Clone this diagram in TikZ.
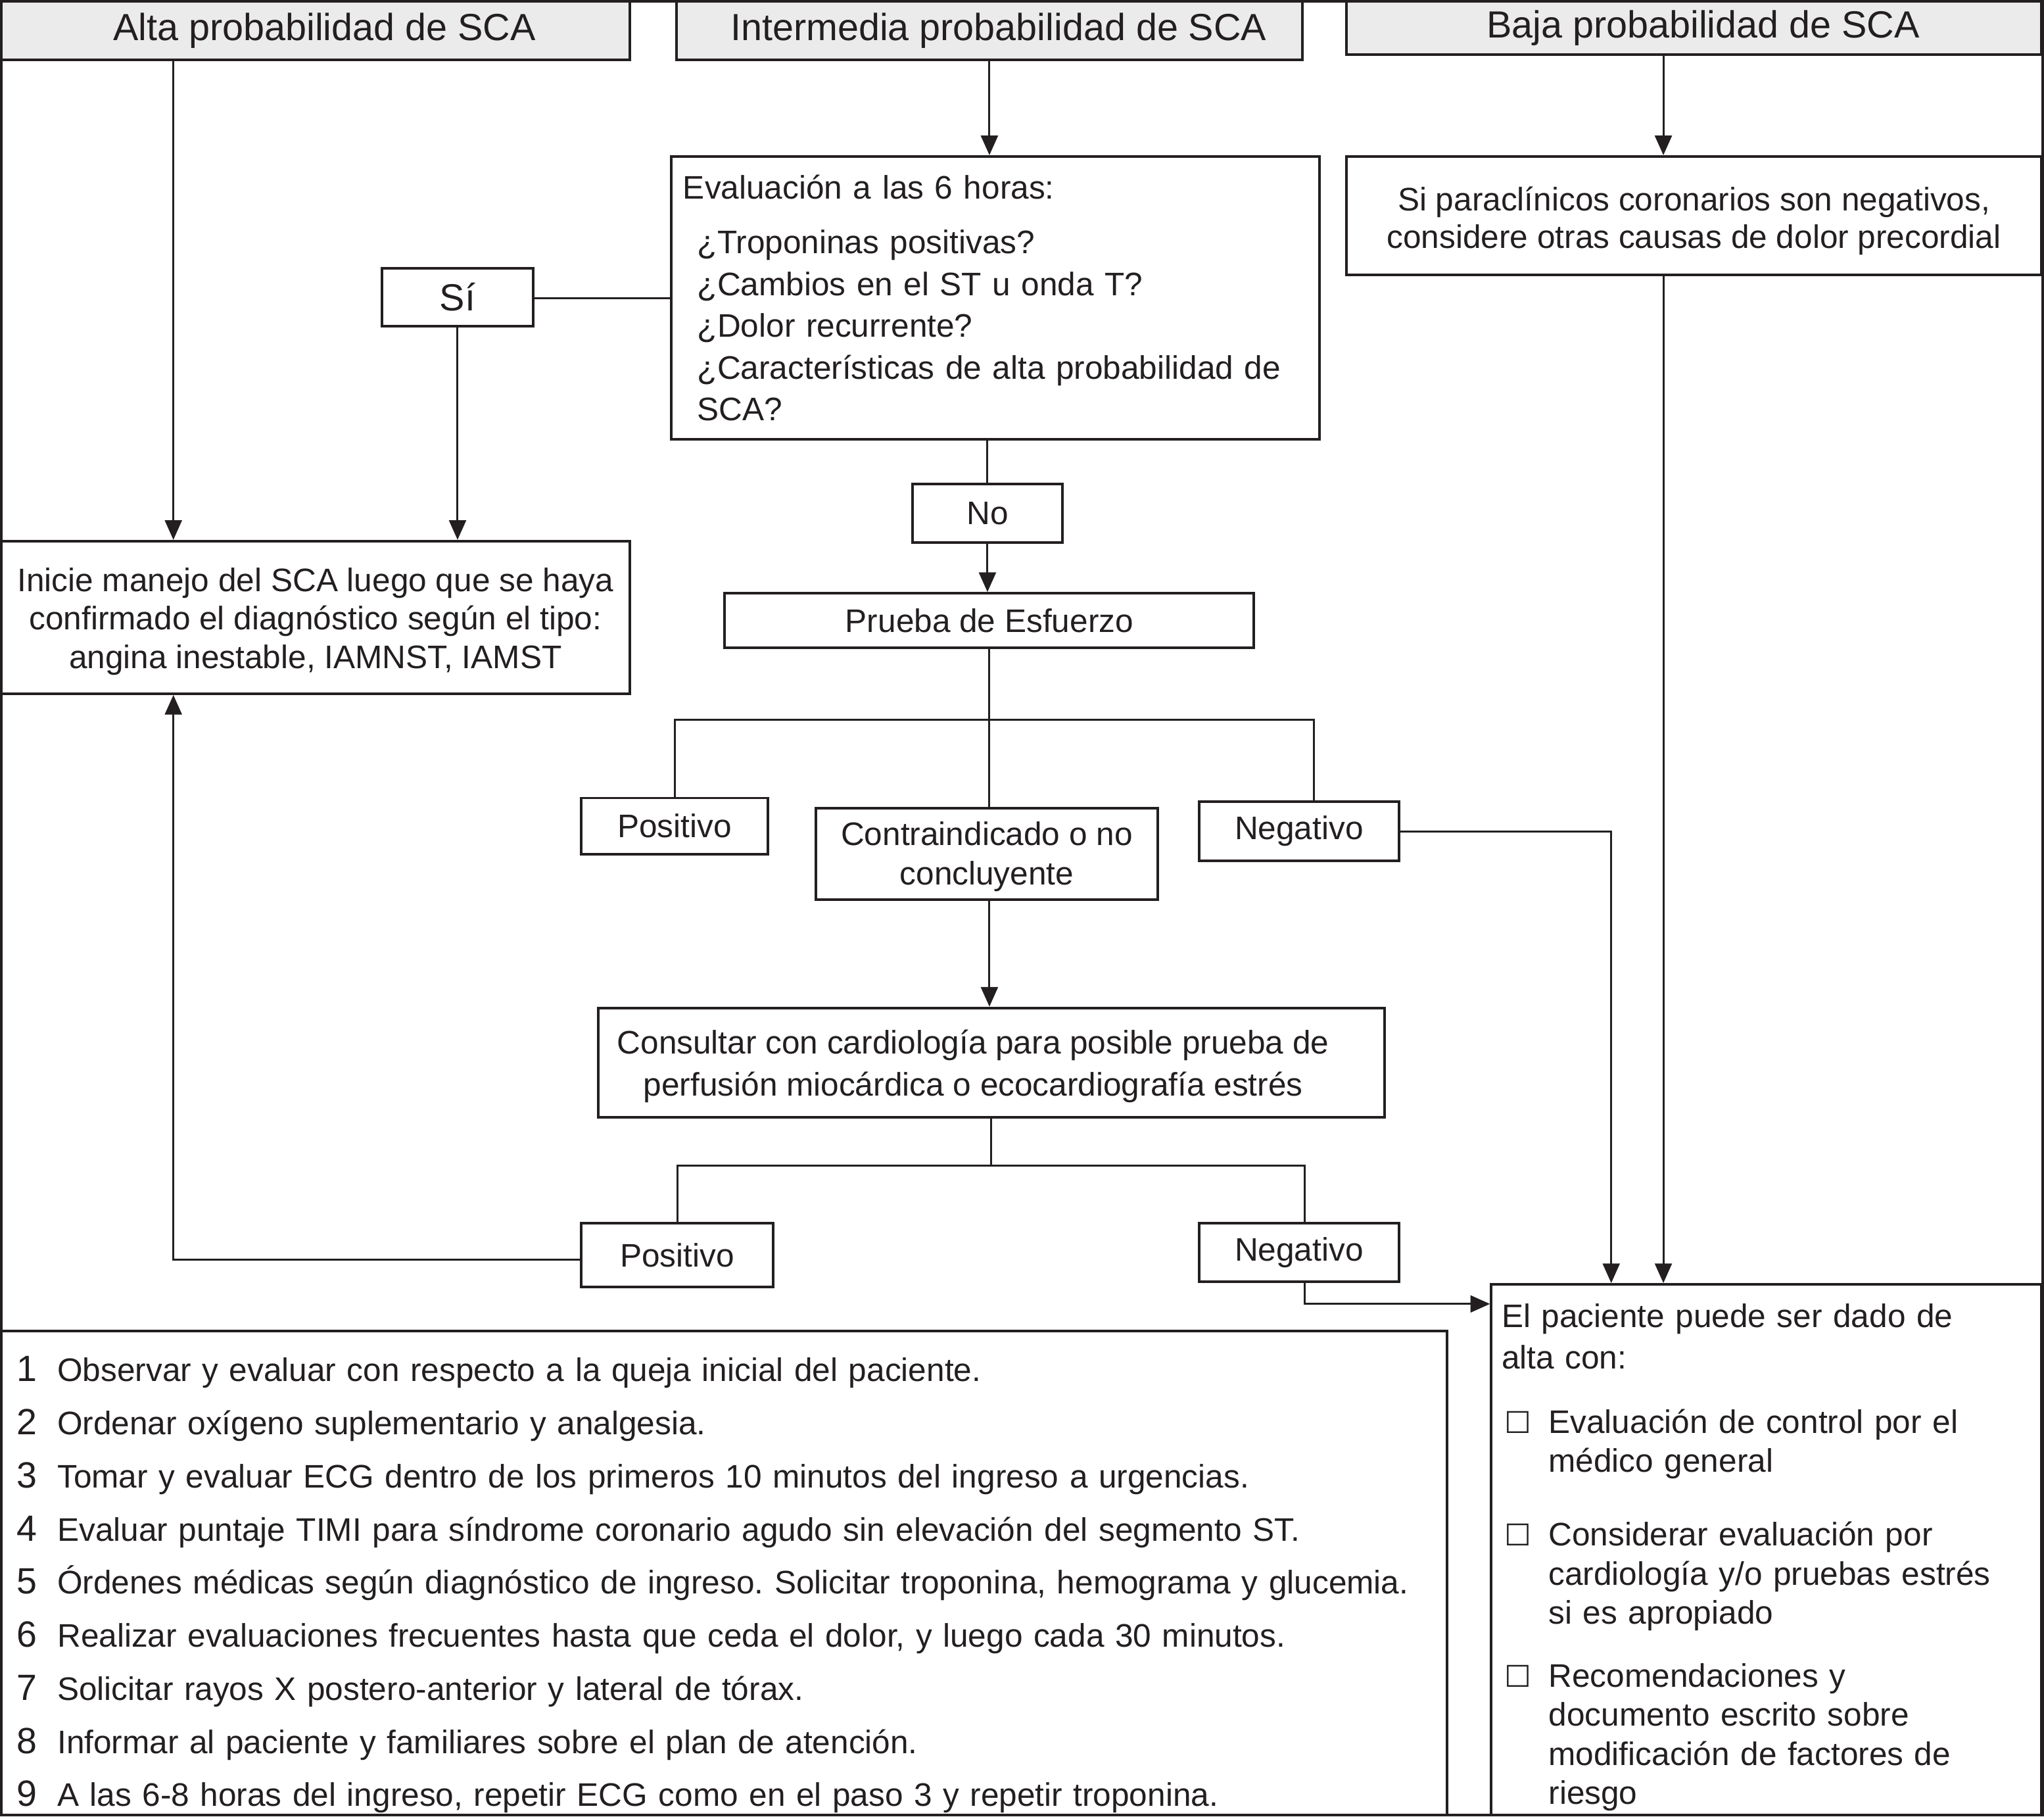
\documentclass[tikz,border=0pt]{standalone}
\usepackage{fontspec}
\setmainfont{Liberation Sans}
\newfontfamily\dejavu{DejaVu Sans}
\usetikzlibrary{arrows.meta}
\frenchspacing
\definecolor{ink}{HTML}{231F20}
\definecolor{hdfill}{HTML}{EBEBEB}
\newcommand\chkbox{{\dejavu\fontsize{23pt}{30pt}\selectfont ☐}}
\newcommand\listnum[1]{\makebox[31pt][l]{\fontsize{28pt}{30pt}\selectfont #1}}
\tikzset{
  bx/.style={draw=ink, line width=2pt, inner sep=0pt, text=ink, font=\fontsize{25pt}{30pt}\selectfont},
  hd/.style={bx, fill=hdfill, font=\fontsize{29pt}{34pt}\selectfont},
  ln/.style={line width=1.5pt, draw=ink},
  arr/.style={ln, -{Triangle[length=15pt,width=13pt]}},
}
\begin{document}
\begin{tikzpicture}[x=1pt,y=-1pt]
\useasboundingbox (0,0) rectangle (1568,1393);
% headers
\node[hd, minimum width=482pt, minimum height=45pt] (h1) at (242,23.5) {\hspace*{14pt}Alta probabilidad de SCA};
\node[hd, minimum width=480pt, minimum height=45pt] (h2) at (759,23.5) {\hspace*{14pt}Intermedia probabilidad de SCA};
\node[hd, minimum width=533pt, minimum height=41pt] (h3) at (1299.5,21.5) {\hspace*{14pt}Baja probabilidad de SCA};
% evaluation
\node[bx, minimum width=497pt, minimum height=217pt, text width=479pt, align=left, inner xsep=9pt, font=\fontsize{25pt}{32pt}\selectfont] (ev) at (763.5,228.5) {Evaluación a las 6 horas:\\[10pt]
\hspace*{11pt}¿Troponinas positivas?\\
\hspace*{11pt}¿Cambios en el ST u onda T?\\
\hspace*{11pt}¿Dolor recurrente?\\
\hspace*{11pt}¿Características de alta probabilidad de\\
\hspace*{11pt}SCA?};
\node[bx, minimum width=116pt, minimum height=44pt, font=\fontsize{29pt}{34pt}\selectfont] (si) at (351,228) {Sí};
\node[bx, minimum width=482pt, minimum height=117pt, align=center, font=\fontsize{25pt}{29.5pt}\selectfont] (ini) at (242,473.5) {\rule{0pt}{24pt}Inicie manejo del SCA luego que se haya\\confirmado el diagnóstico según el tipo:\\angina inestable, IAMNST, IAMST};
\node[bx, minimum width=115pt, minimum height=45pt] (no) at (757.5,393.5) {No};
\node[bx, minimum width=406pt, minimum height=42pt] (pr) at (759,476) {Prueba de Esfuerzo};
\node[bx, minimum width=143pt, minimum height=43pt] (pos1) at (517.5,633.5) {Positivo};
\node[bx, minimum width=262pt, minimum height=70pt, align=center] (contra) at (757,655) {\rule{0pt}{22pt}Contraindicado o no\\concluyente};
\node[bx, minimum width=153pt, minimum height=45pt] (neg1) at (996.5,637.5) {Negativo};
\node[bx, minimum width=603pt, minimum height=84pt, align=center, font=\fontsize{25pt}{32pt}\selectfont] (cons) at (760.5,815) {\rule{0pt}{24pt}Consultar con cardiología para posible prueba de\hspace*{28pt}\\perfusión miocárdica o ecocardiografía estrés\hspace*{28pt}};
\node[bx, minimum width=147pt, minimum height=49pt] (pos2) at (519.5,962.5) {Positivo};
\node[bx, minimum width=153pt, minimum height=45pt] (neg2) at (996.5,960.5) {Negativo};
\node[bx, minimum width=533pt, minimum height=91pt, align=center, font=\fontsize{25pt}{29pt}\selectfont] (sipara) at (1299.5,165.5) {\rule{0pt}{26pt}Si paraclínicos coronarios son negativos,\\considere otras causas de dolor precordial};
\node[bx, minimum width=422pt, minimum height=407pt, text width=406pt, align=left, inner xsep=8pt] (alta) at (1355,1188.5) {\rule{0pt}{30pt}El paciente puede ser dado de\\[1.5pt]
alta con:\\[19.5pt]
\hspace*{2pt}\makebox[34pt][l]{\chkbox}Evaluación de control por el\\
\hspace*{36pt}médico general\\[26.5pt]
\hspace*{2pt}\makebox[34pt][l]{\chkbox}Considerar evaluación por\\
\hspace*{36pt}cardiología y/o pruebas estrés\\
\hspace*{36pt}si es apropiado\\[18pt]
\hspace*{2pt}\makebox[34pt][l]{\chkbox}Recomendaciones y\\
\hspace*{36pt}documento escrito sobre\\
\hspace*{36pt}modificación de factores de\\
\hspace*{36pt}riesgo};
\node[bx, minimum width=1109pt, minimum height=371pt, text width=1085pt, align=left, inner xsep=12pt, font=\fontsize{25pt}{40.75pt}\selectfont] (list) at (555.5,1206.5) {\rule{0pt}{37pt}\listnum{1}Observar y evaluar con respecto a la queja inicial del paciente.\\
\listnum{2}Ordenar oxígeno suplementario y analgesia.\\
\listnum{3}Tomar y evaluar ECG dentro de los primeros 10 minutos del ingreso a urgencias.\\
\listnum{4}Evaluar puntaje TIMI para síndrome coronario agudo sin elevación del segmento ST.\\
\listnum{5}Órdenes médicas según diagnóstico de ingreso. Solicitar troponina, hemograma y glucemia.\\
\listnum{6}Realizar evaluaciones frecuentes hasta que ceda el dolor, y luego cada 30 minutos.\\
\listnum{7}Solicitar rayos X postero-anterior y lateral de tórax.\\
\listnum{8}Informar al paciente y familiares sobre el plan de atención.\\
\listnum{9}A las 6-8 horas del ingreso, repetir ECG como en el paso 3 y repetir troponina.};
% connectors
\draw[arr] ([xshift=-109pt]h1.south) -- ([xshift=-109pt]ini.north);
\draw[arr] (h2.south) -- (h2.south |- ev.north);
\draw[ln] (ev.west) -- (ev.west -| si.east);
\draw[arr] (si.south) -- (si.south |- ini.north);
\draw[ln] (no.north |- ev.south) -- (no.north);
\draw[arr] (no.south) -- (no.south |- pr.north);
\draw[ln] (pr.south) -- (pr.south |- contra.north);
\path (pr.south) -- ++(0,54) coordinate (b1);
\coordinate (n1t) at ([xshift=11.5pt]neg1.north);
\draw[ln] (pos1.north) -- (pos1.north |- b1) -- (n1t |- b1) -- (n1t);
\draw[arr] (pr.south |- contra.south) -- (pr.south |- cons.north);
\draw[ln] (cons.south) -- ++(0,36) coordinate (b2);
\coordinate (n2t) at ([xshift=4.5pt]neg2.north);
\draw[ln] (pos2.north) -- (pos2.north |- b2) -- (n2t |- b2) -- (n2t);
\coordinate (pos2out) at ([yshift=-3.5pt]pos2.west);
\draw[arr] (pos2out) -| ([xshift=-109pt]ini.south);
\coordinate (n2b) at ([xshift=4.5pt]neg2.south);
\coordinate (altain) at ([yshift=-16pt]alta.north west);
\draw[arr] (n2b) |- (altain);
\draw[arr] (neg1.east) -| ([xshift=-119pt]alta.north);
\coordinate (h3out) at ([xshift=-23.5pt]h3.south);
\coordinate (spin) at ([xshift=-23.5pt]sipara.north);
\coordinate (spout) at ([xshift=-23.5pt]sipara.south);
\draw[arr] (h3out) -- (spin);
\draw[arr] (spout) -- (spout |- alta.north);
% outer frame
\draw[draw=ink, line width=2pt] (1,1) rectangle (1567,1392);
\end{tikzpicture}
\end{document}
